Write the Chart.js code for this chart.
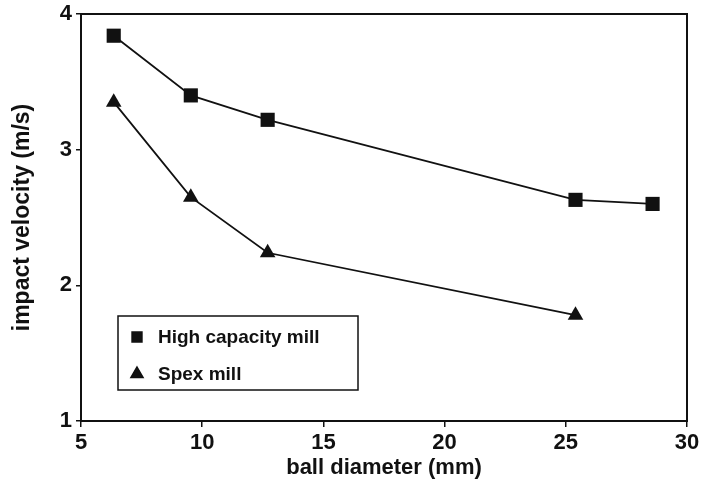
<!DOCTYPE html>
<html>
<head>
<meta charset="utf-8">
<script src="https://cdn.jsdelivr.net/npm/chart.js@4.4.1/dist/chart.umd.min.js"></script>
<style>
  html, body { margin: 0; padding: 0; background: #fff; }
  #wrap { width: 704px; height: 486px; }
</style>
</head>
<body>
<div id="wrap"><canvas id="velocityChart" width="704" height="486"></canvas></div>
<script>
// ball diameters (mm) and measured impact velocities (m/s)
const highCapDiameter = [6.35, 9.53, 12.7, 25.4, 28.58];
const highCapVelocity = [3.84, 3.40, 3.22, 2.63, 2.60];
const spexDiameter = [6.35, 9.53, 12.7, 25.4];
const spexVelocity = [3.35, 2.65, 2.24, 1.78];
const seriesNames = ['High capacity mill', 'Spex mill'];

const tickFont = { family: 'Liberation Sans, Arial, sans-serif', size: 22, weight: 'bold' };
const xTitleFont = { family: 'Liberation Sans, Arial, sans-serif', size: 22, weight: 'bold' };
const yTitleFont = { family: 'Liberation Sans, Arial, sans-serif', size: 23, weight: 'bold' };

function toPoints(xs, ys) {
    return xs.map((x, i) => ({ x: x, y: ys[i] }));
}

// frame around the plot plus the boxed legend inside it
const framePlugin = {
    id: 'frame',
    afterDraw: function(chart) {
        const ctx = chart.ctx;
        const a = chart.chartArea;
        ctx.save();
        ctx.strokeStyle = '#111';
        ctx.lineWidth = 2;
        ctx.strokeRect(a.left, a.top, a.right - a.left, a.bottom - a.top);

        // legend box
        const bx = 118, by = 316, bw = 240, bh = 74;
        ctx.lineWidth = 1.5;
        ctx.fillStyle = '#fff';
        ctx.fillRect(bx, by, bw, bh);
        ctx.strokeRect(bx, by, bw, bh);

        ctx.fillStyle = '#111';
        ctx.font = 'bold 19px "Liberation Sans", Arial, sans-serif';
        ctx.textBaseline = 'middle';
        chart.data.datasets.forEach(function(ds, i) {
            const cy = by + 21 + i * 37;
            Chart.helpers.drawPoint(ctx, {
                pointStyle: ds.pointStyle,
                radius: 7,
                borderWidth: 1
            }, 137, cy);
            ctx.fill();
            ctx.fillText(ds.label, 158, cy + 1);
        });
        ctx.restore();
    }
};

const ctx = document.getElementById('velocityChart').getContext('2d');
const velocityChart = new Chart(ctx, {
    type: 'scatter',
    data: {
        datasets: [{
            label: seriesNames[0],
            data: toPoints(highCapDiameter, highCapVelocity),
            showLine: true,
            borderColor: '#111',
            backgroundColor: '#111',
            borderWidth: 1.8,
            pointStyle: 'rect',
            pointRadius: 10,
            pointBorderWidth: 0
        }, {
            label: seriesNames[1],
            data: toPoints(spexDiameter, spexVelocity),
            showLine: true,
            borderColor: '#111',
            backgroundColor: '#111',
            borderWidth: 1.8,
            pointStyle: 'triangle',
            pointRadius: 9,
            pointBorderWidth: 0
        }]
    },
    options: {
        responsive: false,
        animation: false,
        layout: { padding: { left: 0, right: 17, top: 14, bottom: 0 } },
        plugins: {
            legend: { display: false },
            tooltip: { enabled: false }
        },
        scales: {
            x: {
                type: 'linear',
                min: 5,
                max: 30,
                border: { display: false },
                grid: { drawOnChartArea: false, tickLength: 6, color: '#111', lineWidth: 1.5 },
                ticks: { stepSize: 5, color: '#111', font: tickFont, padding: 3, maxRotation: 0 },
                title: { display: true, text: 'ball diameter (mm)', color: '#111', font: xTitleFont, padding: { top: 0, bottom: 5 } },
                afterFit: function(scale) {
                    scale.height = 65;
                    scale.paddingLeft = 0;
                    scale.paddingRight = 0;
                }
            },
            y: {
                type: 'linear',
                min: 1,
                max: 4,
                border: { display: false },
                grid: { drawOnChartArea: false, tickLength: 5, color: '#111', lineWidth: 1.5 },
                ticks: { stepSize: 1, color: '#111', font: tickFont, padding: 4 },
                title: { display: true, text: 'impact velocity (m/s)', color: '#111', font: yTitleFont, padding: { top: 9, bottom: 0 } },
                afterFit: function(scale) {
                    scale.width = 81;
                    scale.paddingTop = 0;
                    scale.paddingBottom = 0;
                }
            }
        }
    },
    plugins: [framePlugin]
});
</script>
</body>
</html>
